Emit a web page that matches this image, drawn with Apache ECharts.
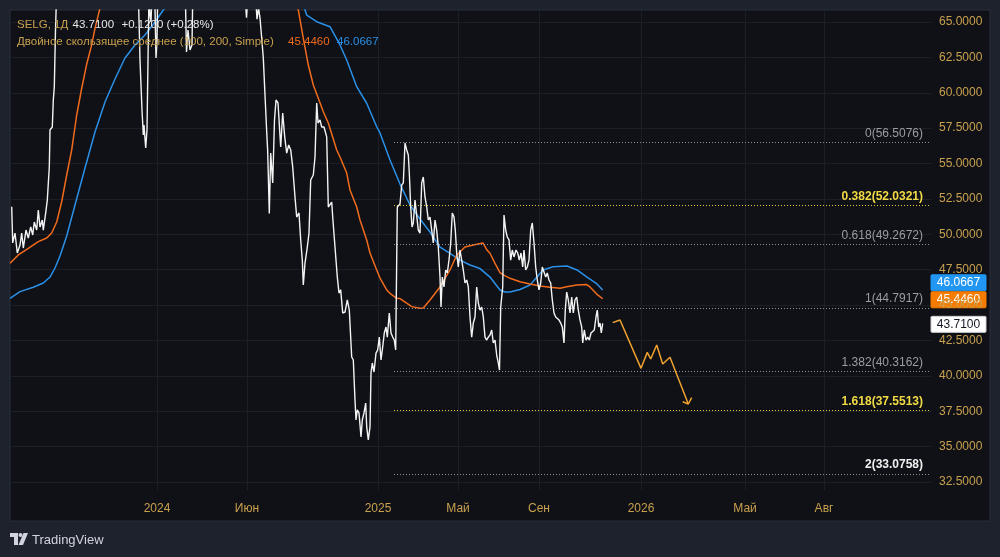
<!DOCTYPE html>
<html>
<head>
<meta charset="utf-8">
<script src="https://cdn.jsdelivr.net/npm/echarts@6/dist/echarts.min.js"></script>
<style>
html,body{margin:0;padding:0;background:#1e222d;}
#c{width:1000px;height:557px;}
</style>
</head>
<body>
<div id="c"></div>
<script>
// ---------- DATA ----------
const symbolName = 'SELG, 1Д';
const lastClose = 43.71;
const lastChange = 0.12;
const lastChangePct = 0.28;
const maTitle = 'Двойное скользящее среднее (100, 200, Simple)';

const priceTicks = [32.5, 35, 37.5, 40, 42.5, 45, 47.5, 50, 52.5, 55, 57.5, 60, 62.5, 65];
const timeTicks = [147, 237, 368, 448, 529, 631, 735, 814];      // bar index of each label
const timeLabels = ['2024', 'Июн', '2025', 'Май', 'Сен', '2026', 'Май', 'Авг'];

// close price [bar index, price]
const price = [
[1.7,51.95],[2.7,49.39],[5,50.09],[7.3,48.68],[10,49.24],[11.7,50.09],[13.3,49.03],[16,50.30],[18.3,49.74],[20.7,50.52],[22.7,49.95],[24.3,50.87],[26.7,50.30],[28.3,51.72],[30,50.52],[32.3,51.01],[33.3,50.30],[35.7,51.51],[37.3,52.42],[39.3,54.76],[40,57.37],[42.3,57.58],[43.3,59.49],[44.3,60.41],[45.5,64.43],[47,68],[55,71],[70,74],[85,72],[100,75],[115,73],[125,72],
[128,68],[130,62.32],[132,58.78],[133.3,57.02],[134,57.72],[135.7,56.10],[137,57.37],[138,62.32],[139,67],[140,65.49],[141,65.0],[142,67],[145,66],[146,62.46],[147,63.73],[148,68],[160,70],[175,68],[176.5,62.88],[178,64.43],[180,63.02],[182,63.38],[183,68],[200,71],[220,70],[234,68],[236.5,65.3],[238,67],[245,67.5],[247,65.2],[248.5,66],[250,65.28],
[251.7,63.87],[253.3,62.46],[255,59.84],[256.7,57.25],[257.7,55.84],[259.3,51.48],[260.7,55.74],[262.7,53.63],[264.5,58.08],[266,59.49],[268,59.28],[270.7,56.17],[272.7,58.57],[274.7,56.88],[276.7,55.74],[278.7,56.31],[280.7,55.96],[282.7,54.76],[285,52.64],[286.7,51.22],[289,51.51],[290.7,49.60],[292.3,48.18],[293.3,46.42],[295,47.97],[297.3,49.10],[299,50.09],[300.7,53.84],[303.3,54.19],[305,55.46],[306.7,59.28],[308,57.86],[310,58.08],[311.7,57.58],[314,57.58],[316.7,56.88],[318.3,51.93],[320,51.86],[321.7,52.28],[322.7,51.22],[325,49.10],[327.3,46.98],[329,45.85],[330.7,46.07],[332.7,44.44],[335,44.51],[337.3,45.36],[339.3,44.65],[341.7,41.33],[343.3,41.12],[345,38.29],[346,36.88],[347.3,37.59],[349,37.38],[351,35.68],[352.3,36.88],[354,37.38],[355.7,38.08],[356.7,36.39],[358.3,35.47],[360,36.39],[361,40.20],[362.3,40.91],[364,40.27],[366,41.61],[367.7,41.83],[369.3,42.74],[371,41.12],[372.7,42.04],[374.3,43.03],[376,43.45],[377.3,42.74],[379.3,44.44],[381,43.03],[382.7,42.74],[384.3,42.53],[385.7,41.83],
[387.3,51.93],[390,52.14],[391.7,53.48],[393.3,53.63],[395,56.45],[396.7,55.96],[398.3,55.60],[399.3,54.33],[400.7,51.93],[402,50.52],[403.3,50.80],[405,52.42],[406.7,52.28],[408.3,50.30],[410,50.09],[411.7,53.63],[413.3,54.05],[415,52.64],[416.7,51.93],[418.3,51.01],[420,51.22],[421.7,50.30],[423.3,49.39],[425,51.01],[426.7,50.30],[428.3,49.10],[430,46.98],[431,44.86],[432.3,46.98],[434,46.28],[435.7,47.48],[437.3,47.27],[439,48.18],[440.7,49.39],[442.3,51.51],[444,51.22],[445.3,50.30],[446.7,48.68],[448.3,47.69],[450,48.89],[451.7,48.89],[453.3,47.48],[455,46.56],[456.7,46.77],[458.3,46.28],[460,44.16],[461.7,42.74],[463.3,43.73],[465,44.16],[466.7,46.28],[468.3,45.15],[470,44.65],[471.7,44.86],[473.3,44.16],[475,42.74],[476.7,42.53],[478.3,42.74],[480,42.89],[481.7,43.24],[483.3,42.32],[485,42.53],[486.7,41.47],[488.3,40.91],[489.5,40.41],
[490.7,44.86],[492.7,46.28],[494,51.36],[495.7,50.30],[497.3,49.81],[499,49.60],[500.7,48.18],[502.3,48.89],[504,48.40],[506,48.89],[507.7,48.68],[509.3,48.18],[511,48.68],[512.7,47.69],[514,48.89],[515.7,47.48],[517.3,47.69],[519,48.18],[520.7,50.30],[522.3,50.80],[524,49.39],[525.7,47.69],[527.3,46.77],[529,46.07],[530.7,46.56],[532.3,47.69],[534,47.83],[535.7,46.98],[537.3,47.27],[539,46.77],[540.7,46.56],[542.3,45.36],[544,44.44],[545.7,44.16],[547.3,44.16],[549,43.95],[550.7,43.73],[552.3,43.45],[554,42.32],[555.3,44.65],[556.7,45.92],[558.3,45.36],[560,44.44],[561.7,45.57],[563.3,44.44],[565,45.36],[566.7,45.57],[568.3,44.65],[570,43.95],[571.7,43.45],[572.7,42.32],[574.3,43.24],[576,42.53],[577.7,42.74],[579.3,42.53],[581,43.03],[582.7,42.89],[584.3,43.24],[586,44.16],[587.3,44.65],[588.7,43.45],[590,43.73],[591.3,43.03],[592.7,43.71]
];

// SMA 100
const ma100 = [
[0,47.95],[8.3,48.54],[18.3,49.01],[28.3,49.48],[36.7,49.74],[41.7,50.09],[46.7,50.87],[51.7,52.30],[56.7,54.19],[61.7,55.96],[66.7,58.43],[71.7,60.32],[76.7,62.03],[81.7,63.38],[85,64.55],[90,65.99],[110,68],[150,72],[200,74],[250,71],[286,66.2],[288.3,65.85],[293.3,63.85],[298.3,61.96],[303.3,60.55],[308.3,59.61],[313.3,58.66],[318.3,57.86],[326.7,55.96],[330,55.46],[336.7,54.33],[340,53.13],[346.7,51.93],[350,51.01],[356.7,49.60],[360,48.68],[366.7,47.48],[370,46.91],[376.7,46.07],[380,45.83],[386.7,45.48],[390,45.46],[396.7,45.13],[401.7,44.89],[410,44.77],[413.3,44.79],[420,45.36],[430,46.28],[440,47.48],[446.7,48.54],[455,49.10],[463.3,49.24],[473,49.39],[477,48.89],[480,48.66],[485,47.95],[490,47.30],[493.3,47.13],[500,46.89],[510,46.65],[520,46.49],[530,46.35],[540,46.26],[550,46.19],[556.7,46.30],[566.7,46.42],[576.7,46.45],[580,46.28],[586.7,45.78],[592.7,45.446]
];

// SMA 200
const ma200 = [
[0,45.48],[10,45.95],[23.3,46.26],[33.3,46.56],[40,46.98],[45,47.62],[50,48.47],[56.7,49.88],[65,52.07],[75,54.68],[85,57.23],[95,59.35],[105,60.97],[115,62.46],[125,63.38],[135,64.08],[145,65.0],[153.3,65.85],[170,67],[220,70],[270,69],[290,67],[295,65.85],[296.7,65.49],[306.7,65.02],[320,64.67],[330,63.38],[336.7,62.32],[346.7,60.43],[356.7,59.26],[366.7,57.60],[370,57.16],[380,55.25],[390,53.55],[400,52.07],[410,51.08],[420,50.16],[430,49.10],[440,48.66],[450,48.18],[460,47.83],[470,47.58],[480,46.98],[490,46.07],[495,45.92],[500,45.92],[510,46.10],[520,46.42],[527,46.98],[533,47.48],[543,47.71],[557,47.76],[567,47.48],[577,46.98],[587,46.49],[592.7,46.0667]
];

// forecast path and its arrow head
const forecast = [[602.7,43.76],[610,43.95],[631,40.53],[637.3,41.66],[640.7,41.19],[646.7,42.18],[652.7,40.84],[660,41.31],[678.3,38.01]];
const arrowHead = [[672.7,38.17],[678.3,38.01],[681.7,38.46]];

// Fibonacci extension levels
const fibRatios = ['0', '0.382', '0.618', '1', '1.382', '1.618', '2'];
const fibPrices = [56.5076, 52.0321, 49.2672, 44.7917, 40.3162, 37.5513, 33.0758];
const fibStartBar = 384;

// ---------- STYLE / LAYOUT ----------
const X_MIN = 0, X_MAX = 921;
const Y_MIN = 31.935, Y_MAX = 65.848;
const FONT = "'Liberation Sans', Arial, sans-serif";
const GOLD = '#c9a14e';
const ORANGE = '#f26b1d';
const BLUE = '#2a90e8';
const GRID = '#1c1f27';
const LEG = 11.5;
const fibStyle = [
  {line:'#8d909a', text:'#9a9da6', bold:false},
  {line:'#e8cf2e', text:'#f2da45', bold:true},
  {line:'#8d909a', text:'#9a9da6', bold:false},
  {line:'#8d909a', text:'#9a9da6', bold:false},
  {line:'#8d909a', text:'#9a9da6', bold:false},
  {line:'#e8cf2e', text:'#f2da45', bold:true},
  {line:'#8d909a', text:'#f0f0f0', bold:true}
];

const chart = echarts.init(document.getElementById('c'), null, {renderer:'canvas', width:1000, height:557});

const fibMarkData = fibPrices.map((p, i) => [
  {
    coord: [fibStartBar, p],
    lineStyle: {color: fibStyle[i].line, type: [1, 2], width: 1},
    label: {
      show: true, position: 'insideEndTop',
      formatter: fibRatios[i] + '(' + p.toFixed(4) + ')',
      color: fibStyle[i].text, fontWeight: fibStyle[i].bold ? 'bold' : 'normal',
      fontSize: 12, fontFamily: FONT, distance: [8, 3]
    }
  },
  {coord: [X_MAX, p]}
]);

const option = {
  backgroundColor: '#1e222d',
  animation: false,
  grid: {left: 10, right: 69, top: 10, bottom: 67, containLabel: false},
  xAxis: {
    type: 'value', min: X_MIN, max: X_MAX,
    axisLine: {show: false},
    axisTick: {show: false, customValues: timeTicks},
    axisLabel: {
      customValues: timeTicks,
      formatter: v => timeLabels[timeTicks.indexOf(v)],
      color: GOLD, fontSize: 12, fontFamily: FONT, margin: 13
    },
    splitLine: {show: true, lineStyle: {color: GRID, width: 1}}
  },
  yAxis: {
    type: 'value', position: 'right', min: Y_MIN, max: Y_MAX,
    axisLine: {show: false},
    axisTick: {show: false, customValues: priceTicks},
    axisLabel: {
      customValues: priceTicks,
      formatter: v => v.toFixed(4),
      color: GOLD, fontSize: 12, fontFamily: FONT, margin: 8
    },
    splitLine: {show: true, lineStyle: {color: GRID, width: 1}}
  },
  series: [
    {type: 'line', name: 'fib', data: [], silent: true,
     markLine: {symbol: ['none', 'none'], silent: true, animation: false, data: fibMarkData}},
    {type: 'line', name: 'MA200', data: ma200, showSymbol: false, symbol: 'none',
     lineStyle: {color: BLUE, width: 1.5}, z: 3},
    {type: 'line', name: 'MA100', data: ma100, showSymbol: false, symbol: 'none',
     lineStyle: {color: ORANGE, width: 1.5}, z: 4},
    {type: 'line', name: 'price', data: price, showSymbol: false, symbol: 'none',
     lineStyle: {color: '#f4f4f4', width: 1.4}, z: 5},
    {type: 'line', name: 'forecast', data: forecast, showSymbol: false, symbol: 'none',
     lineStyle: {color: '#f0a22e', width: 1.5}, z: 5},
    {type: 'line', name: 'arrow', data: arrowHead, showSymbol: false, symbol: 'none',
     lineStyle: {color: '#f0a22e', width: 1.5}, z: 5}
  ]
};
chart.setOption(option);

// ---------- overlays: frame, legend, price badges, logo ----------
const yOf = v => chart.convertToPixel({yAxisIndex: 0}, v);
const last = arr => arr[arr.length - 1][1];
const ma100Last = last(ma100), ma200Last = last(ma200), closeLast = last(price);

function badge(value, bg, fg, yCenter) {
  return {
    type: 'group', x: 931, y: yCenter - 8, z: 100,
    children: [
      {type: 'rect', shape: {x: 0, y: 0, width: 55, height: 16, r: 1}, style: {fill: bg, stroke: bg === '#ffffff' ? '#d0d0d0' : bg, lineWidth: 1}},
      {type: 'text', x: 27.5, y: 8, style: {text: value.toFixed(4), fill: fg, fontSize: 12, fontFamily: FONT, align: 'center', verticalAlign: 'middle'}}
    ]
  };
}

const yBlue = yOf(ma200Last), yOrange = yOf(ma100Last), yClose = yOf(closeLast);
const graphics = [
  {type: 'rect', z: -10, silent: true, shape: {x: 10, y: 10, width: 980, height: 511}, style: {fill: '#0f1116', stroke: '#2a2e39', lineWidth: 1}},
  {type: 'text', x: 17, y: 24.5, z: 50, style: {text: symbolName, fill: GOLD, fontSize: LEG, fontFamily: FONT, verticalAlign: 'middle'}},
  {type: 'text', x: 72.5, y: 24.5, z: 50, style: {text: lastClose.toFixed(4), fill: '#e8e8e8', fontSize: LEG, fontFamily: FONT, verticalAlign: 'middle'}},
  {type: 'text', x: 121.5, y: 24.5, z: 50, style: {text: '+' + lastChange.toFixed(4) + ' (+' + lastChangePct.toFixed(2) + '%)', fill: '#e8e8e8', fontSize: LEG, fontFamily: FONT, verticalAlign: 'middle'}},
  {type: 'text', x: 17, y: 41.5, z: 50, style: {text: maTitle, fill: GOLD, fontSize: LEG, fontFamily: FONT, verticalAlign: 'middle'}},
  {type: 'text', x: 288, y: 41.5, z: 50, style: {text: ma100Last.toFixed(4), fill: ORANGE, fontSize: LEG, fontFamily: FONT, verticalAlign: 'middle'}},
  {type: 'text', x: 337, y: 41.5, z: 50, style: {text: ma200Last.toFixed(4), fill: BLUE, fontSize: LEG, fontFamily: FONT, verticalAlign: 'middle'}},
  badge(ma200Last, '#2196f3', '#ffffff', Math.min(yBlue, yOrange - 16)),
  badge(ma100Last, '#f57c00', '#ffffff', yOrange + 1),
  badge(closeLast, '#ffffff', '#131722', yClose + 1),
  // TradingView logo
  {type: 'group', x: 10, y: 533, z: 50, children: [
    {type: 'polygon', shape: {points: [[0,0],[8,0],[8,12],[4,12],[4,4],[0,4]]}, style: {fill: '#d1d4dc'}},
    {type: 'circle', shape: {cx: 10.5, cy: 2, r: 2}, style: {fill: '#d1d4dc'}},
    {type: 'polygon', shape: {points: [[13.5,0],[18,0],[13,12],[8.5,12]]}, style: {fill: '#d1d4dc'}}
  ]},
  {type: 'text', x: 32, y: 540, z: 50, style: {text: 'TradingView', fill: '#d1d4dc', fontSize: 13, fontFamily: FONT, verticalAlign: 'middle'}}
];
chart.setOption({graphic: graphics});
</script>
</body>
</html>
